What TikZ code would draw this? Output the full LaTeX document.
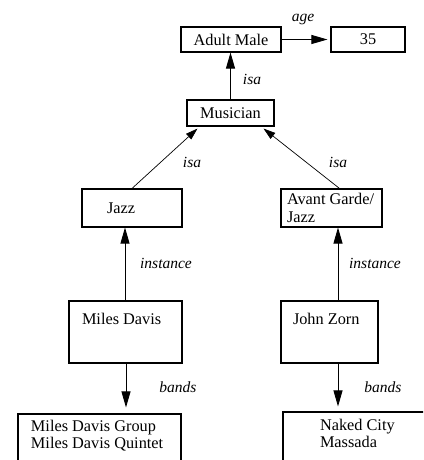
\documentclass[tikz,border=0pt]{standalone}
\usepackage{fontspec}
\setmainfont{Liberation Serif}
\usetikzlibrary{arrows.meta,calc}
\begin{document}
\begin{tikzpicture}[x=1pt,y=-1pt,
  box/.style={draw, line width=1.1pt, inner sep=0pt, font=\fontsize{16.3}{19}\selectfont},
  lbl/.style={font=\fontsize{15.5}{18}\selectfont\itshape, inner sep=0pt},
  conn/.style={line width=0.9pt, -{Triangle[length=16pt,width=9pt]}},
  diag/.style={line width=0.7pt, -{Triangle[length=12pt,width=7.5pt]}}]
\clip (0,0) rectangle (423,460);
\fill[white] (0,0) rectangle (423,460);
% boxes
\node[box, minimum width=100, minimum height=25] (am) at (231,39.5) {Adult Male};
\node[box, minimum width=74, minimum height=25] (v35) at (368,39.5) {35};
\node[box, minimum width=87, minimum height=26] (mus) at (230.5,113) {Musician};
\node[box] (jazz) at (132,208) {\parbox[c][38pt][c]{100pt}{\hspace*{25pt}Jazz}};
\node[box] (ag) at (331.5,208) {\parbox[c][38pt][c]{101pt}{\hspace*{6pt}\parbox{94pt}{\raggedright Avant Garde/\\[-1pt]Jazz}}};
\node[box] (md) at (125.5,332) {\parbox[c][62pt][t]{113pt}{\vspace*{12pt}\hspace*{13pt}Miles Davis}};
\node[box] (jz) at (329.5,332) {\parbox[c][62pt][t]{97pt}{\vspace*{12pt}\hspace*{12pt}John Zorn}};
\node[box] (mdb) at (99.5,450) {\parbox[c][72pt][t]{163pt}{\vspace*{6pt}\hspace*{13pt}\parbox[t]{148pt}{\raggedright Miles Davis Group\\[-2pt]Miles Davis Quintet}}};
\node[box] (nc) at (358,449) {\parbox[c][74pt][t]{150pt}{\vspace*{7pt}\hspace*{37pt}\parbox[t]{110pt}{\raggedright Naked City\\[-2pt]Massada}}};
% connectors
\draw[conn, shorten >=3pt] (am.east) -- (v35.west);
\draw[conn] (mus.north) -- (mus.north |- am.south);
\draw[diag] (jazz.north) -- ([xshift=-33pt,yshift=-2pt]mus.south);
\draw[diag] ([xshift=8pt]ag.north) -- ([xshift=33pt,yshift=-2pt]mus.south);
\draw[conn] ([xshift=-0.5pt]md.north) -- ([xshift=-0.5pt]md.north |- jazz.south);
\draw[conn] ([xshift=8.5pt]jz.north) -- ([xshift=8.5pt]jz.north |- ag.south);
\draw[conn, shorten >=6pt] ([xshift=0.5pt]md.south) -- ([xshift=0.5pt]md.south |- mdb.north);
\draw[conn, shorten >=5pt] ([xshift=8.5pt]jz.south) -- ([xshift=8.5pt]jz.south |- nc.north);
% labels
\node[lbl] (lage) at (303,19) {age};
\node[lbl] (lisa1) at (252,79) {isa};
\node[lbl] (lisa2) at (192,162) {isa};
\node[lbl] (lisa3) at (338,162) {isa};
\node[lbl] (linst1) at (166,263) {instance};
\node[lbl] (linst2) at (375,263) {instance};
\node[lbl] (lb1) at (178,387) {bands};
\node[lbl] (lb2) at (383,387) {bands};
\end{tikzpicture}
\end{document}
